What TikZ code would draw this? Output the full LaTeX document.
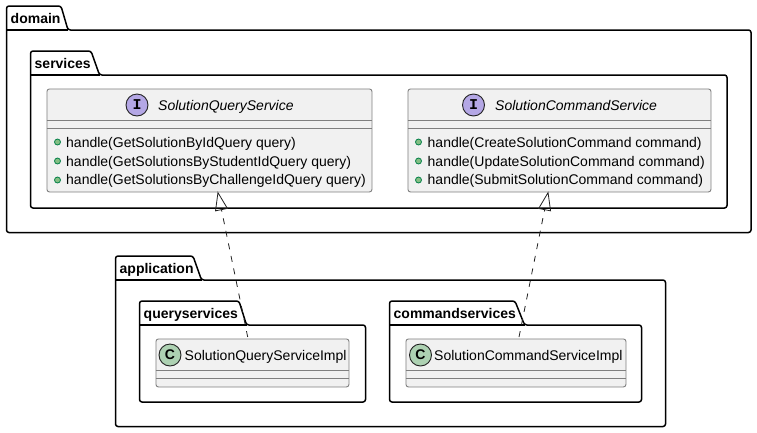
\documentclass[tikz,border=0pt]{standalone}
\usepackage{fontspec}
\setmainfont{Liberation Sans}
\newfontfamily\spotfont{Liberation Mono}
\usetikzlibrary{arrows.meta,calc}
\definecolor{boxfill}{HTML}{F1F1F1}
\definecolor{boxline}{HTML}{7F7F7F}
\definecolor{ifacespot}{HTML}{B4A7E5}
\definecolor{classspot}{HTML}{ADD1B2}
\definecolor{dotfill}{HTML}{84BE84}
\definecolor{dotline}{HTML}{038048}
\definecolor{inkline}{HTML}{222222}
\newcommand{\pkgshape}[7]{% left, tabtop, tabright, tabslant, bodytop, right, bottom
  \draw[pkgline,rounded corners=2.5pt] (#1,#5) -- (#1,#2) -- (#3,#2) -- (#4,#5) -- (#6,#5) -- (#6,#7) -- (#1,#7) -- cycle;
  \draw[pkgline] (#1,#5) -- (#4,#5);
}
\tikzset{
  x=1pt,y=-1pt,
  pkgline/.style={line width=1.5pt,black,line join=round},
  pkgtitle/.style={font=\fontsize{14}{16}\selectfont\bfseries,anchor=base west,inner sep=0pt,text=black},
  classbox/.style={draw=boxline,fill=boxfill,line width=0.9pt,rounded corners=2.5pt,inner sep=0pt,anchor=north west},
  sepline/.style={draw=boxline,line width=0.9pt},
  spot/.style={circle,draw=inkline,line width=0.9pt,inner sep=0pt,minimum size=22pt},
  classname/.style={font=\fontsize{14}{16}\selectfont,anchor=base west,inner sep=0pt,text=black},
  member/.style={font=\fontsize{14}{16}\selectfont,anchor=base west,inner sep=0pt,text=black},
  memberdot/.style={circle,draw=dotline,fill=dotfill,line width=0.8pt,inner sep=0pt,minimum size=6pt},
  realize/.style={line width=0.8pt,inkline,dash pattern=on 6pt off 6.8pt,
    -{Triangle[open,length=19pt,width=13pt,line width=0.8pt]}},
}
\newcommand{\classnode}[5]{% name, x, y, w, h
  \node[classbox,minimum width=#4pt,minimum height=#5pt] (#1) at (#2,#3) {};
}
\begin{document}
\begin{tikzpicture}
\useasboundingbox (0,0) rectangle (757,432);
\fill[white] (0,0) rectangle (757,432);

% domain
\pkgshape{6.5}{6}{61}{68}{30}{751}{232.5}
\node[pkgtitle] (domain) at (10.5,23) {domain};
% services
\pkgshape{30.5}{51}{91}{99.5}{75}{727}{208}
\node[pkgtitle] (services) at (34.5,68) {services};
% application
\pkgshape{115.5}{256}{193}{201.5}{280}{665.5}{426.5}
\node[pkgtitle] (application) at (119.5,273) {application};
% queryservices
\pkgshape{139.5}{301}{239}{246.5}{325}{365.5}{402}
\node[pkgtitle] (queryservices) at (143.5,318) {queryservices};
% commandservices
\pkgshape{389.5}{301}{515}{524.5}{325}{641.5}{402}
\node[pkgtitle] (commandservices) at (393.5,318) {commandservices};

% SolutionQueryService
\classnode{sqs}{46.5}{88.5}{325}{103}
\draw[sepline] (46.5,120.5) -- (371.5,120.5) (46.5,128.5) -- (371.5,128.5);
\node[spot,fill=ifacespot] (sqsspot) at (137,105) {\spotfont\fontsize{15}{15}\selectfont\bfseries I};
\node[classname] (sqsname) at (158,110.5) {\itshape SolutionQueryService};
\node[memberdot] (sqsd1) at (57.5,142) {};
\node[memberdot] (sqsd2) at (57.5,161) {};
\node[memberdot] (sqsd3) at (57.5,180) {};
\node[member] (sqsm1) at (66,147) {handle(GetSolutionByIdQuery query)};
\node[member] (sqsm2) at (66,166) {handle(GetSolutionsByStudentIdQuery query)};
\node[member] (sqsm3) at (66,184.5) {handle(GetSolutionsByChallengeIdQuery query)};

% SolutionCommandService
\classnode{scs}{407.5}{88.5}{303}{103}
\draw[sepline] (407.5,120.5) -- (710.5,120.5) (407.5,128.5) -- (710.5,128.5);
\node[spot,fill=ifacespot] (scsspot) at (473.5,105) {\spotfont\fontsize{15}{15}\selectfont\bfseries I};
\node[classname] (scsname) at (495,110.5) {\itshape SolutionCommandService};
\node[memberdot] (scsd1) at (418.5,142) {};
\node[memberdot] (scsd2) at (418.5,161) {};
\node[memberdot] (scsd3) at (418.5,180) {};
\node[member] (scsm1) at (427.5,147) {handle(CreateSolutionCommand command)};
\node[member] (scsm2) at (427.5,166) {handle(UpdateSolutionCommand command)};
\node[member] (scsm3) at (427.5,184.5) {handle(SubmitSolutionCommand command)};

% SolutionQueryServiceImpl
\classnode{sqsi}{155.5}{338.5}{193}{48}
\draw[sepline] (155.5,370.5) -- (348.5,370.5) (155.5,378.5) -- (348.5,378.5);
\node[spot,fill=classspot] (sqsispot) at (170,355) {\fontsize{14}{14}\selectfont\bfseries C};
\node[classname] (sqsiname) at (184.5,360.5) {SolutionQueryServiceImpl};

% SolutionCommandServiceImpl
\classnode{scsi}{405.5}{338.5}{220}{48}
\draw[sepline] (405.5,370.5) -- (625.5,370.5) (405.5,378.5) -- (625.5,378.5);
\node[spot,fill=classspot] (scsispot) at (420.5,355) {\fontsize{14}{14}\selectfont\bfseries C};
\node[classname] (scsiname) at (434,360.5) {SolutionCommandServiceImpl};

% realizations
\coordinate (qfrom) at ($(sqsi.north west)+(92.2,-1.5)$);
\coordinate (qto) at ($(sqs.south west)+(171.2,-1)$);
\coordinate (cfrom) at ($(scsi.north west)+(113.5,-1.5)$);
\coordinate (cto) at ($(scs.south west)+(140.8,-1)$);
\draw[realize] (qfrom) -- (qto);
\draw[realize] (cfrom) -- (cto);
\end{tikzpicture}
\end{document}
